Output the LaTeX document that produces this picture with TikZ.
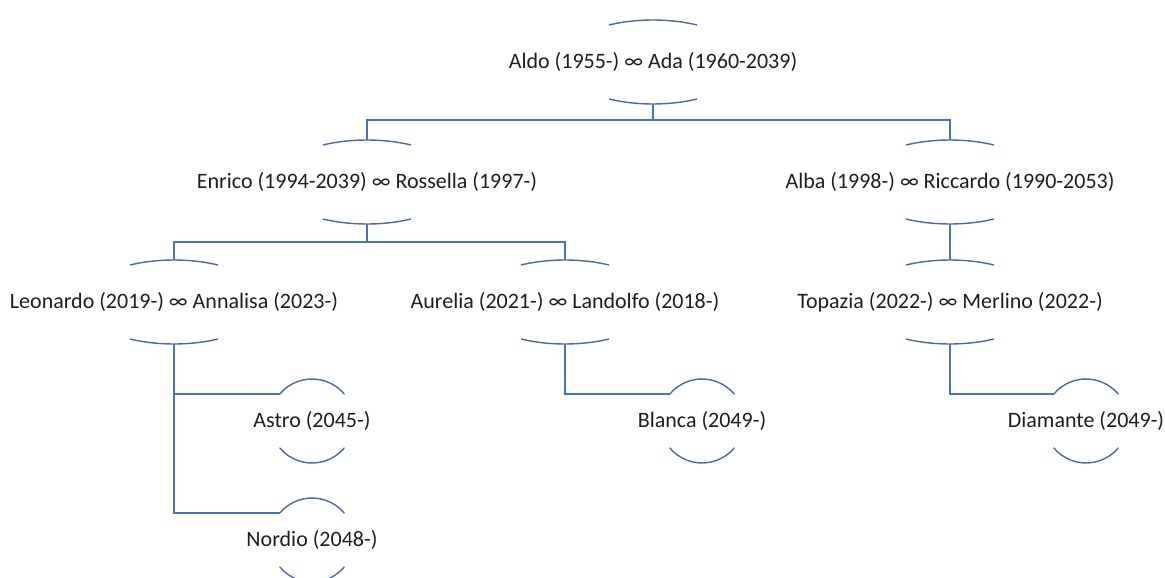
\documentclass[tikz,border=0pt]{standalone}
\usepackage{fontspec}
\setmainfont{Carlito}
\definecolor{linkblue}{HTML}{4472C4}
\definecolor{arcblue}{HTML}{4A69A3}
\definecolor{txt}{HTML}{1E1E1E}
\begin{document}
\begin{tikzpicture}[x=1pt,y=1pt,
  person/.style={inner sep=0pt, text=txt, font=\fontsize{22}{24}\selectfont},
  link/.style={draw=linkblue, line width=1.3pt},
  arcline/.style={draw=arcblue, line width=1.4pt, line cap=round}]
\useasboundingbox (0,0) rectangle (1165,-578);
% couple nodes
\node[person] (aldo)    at (653,-62)  {Aldo (1955-) ∞ Ada (1960-2039)};
\node[person] (enrico)  at (367,-182) {Enrico (1994-2039) ∞ Rossella (1997-)};
\node[person] (alba)    at (950,-182) {Alba (1998-) ∞ Riccardo (1990-2053)};
\node[person] (leo)     at (174,-302) {Leonardo (2019-) ∞ Annalisa (2023-)};
\node[person] (aurelia) at (565,-302) {Aurelia (2021-) ∞ Landolfo (2018-)};
\node[person] (topazia) at (950,-302) {Topazia (2022-) ∞ Merlino (2022-)};
% single nodes
\node[person] (astro)    at (312,-421)  {Astro (2045-)};
\node[person] (nordio)   at (312,-540)  {Nordio (2048-)};
\node[person] (blanca)   at (702,-421)  {Blanca (2049-)};
\node[person] (diamante) at (1086,-421) {Diamante (2049-)};
% arcs of couple nodes
\foreach \n in {aldo,enrico,alba,leo,aurelia,topazia}{
  \draw[arcline] ([shift={(118:93pt and 42pt)}]\n.center) arc[start angle=118, end angle=62, x radius=93pt, y radius=42pt];
  \draw[arcline] ([shift={(242:93pt and 42pt)}]\n.center) arc[start angle=242, end angle=298, x radius=93pt, y radius=42pt];
  \coordinate (\n-t) at ([yshift=42pt]\n.center);
  \coordinate (\n-b) at ([yshift=-42pt]\n.center);
}
% arcs of single nodes
\foreach \n in {astro,nordio,blanca,diamante}{
  \draw[arcline] ([shift={(140:42pt)}]\n.center) arc[start angle=140, end angle=40, radius=42pt];
  \draw[arcline] ([shift={(220:42pt)}]\n.center) arc[start angle=220, end angle=320, radius=42pt];
  \coordinate (\n-l) at ([shift={(140:42pt)}]\n.center);
}
% connectors
\draw[link] (aldo-b) -- ++(0,-16) -| (enrico-t);
\draw[link] (aldo-b) -- ++(0,-16) -| (alba-t);
\draw[link] (enrico-b) -- ++(0,-18) -| (leo-t);
\draw[link] (enrico-b) -- ++(0,-18) -| (aurelia-t);
\draw[link] (alba-b) -- (topazia-t);
\draw[link] (leo-b) |- (astro-l);
\draw[link] (leo-b) |- (nordio-l);
\draw[link] (aurelia-b) |- (blanca-l);
\draw[link] (topazia-b) |- (diamante-l);
\end{tikzpicture}
\end{document}
